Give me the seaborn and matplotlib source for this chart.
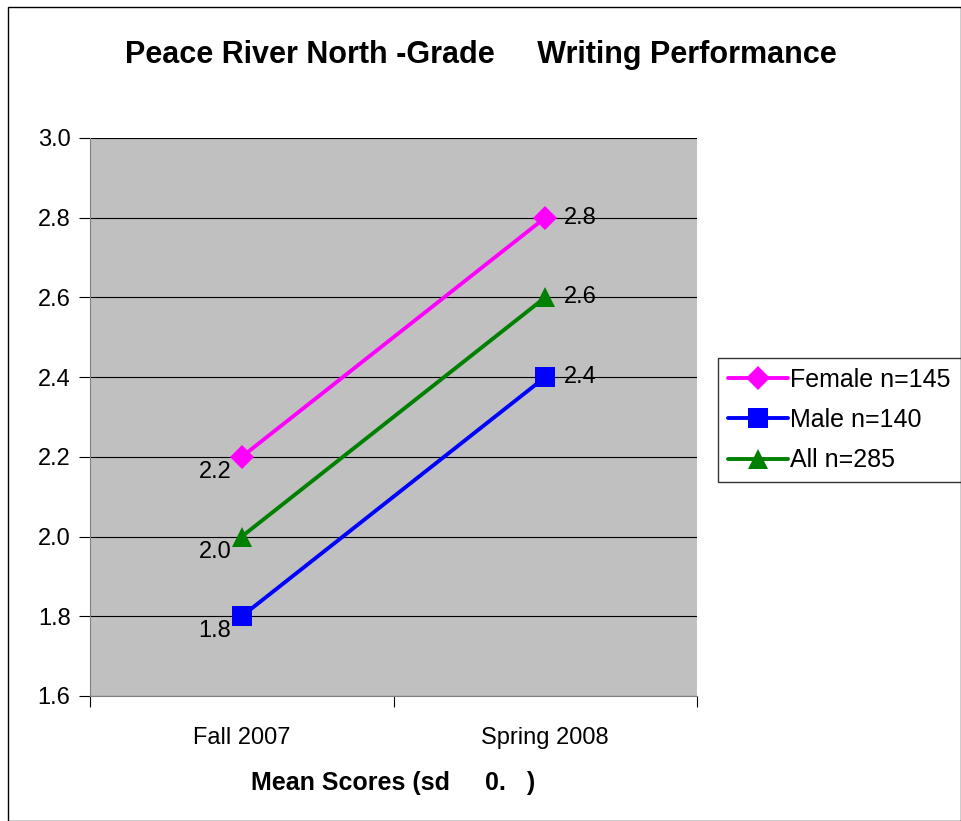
import pandas as pd
import matplotlib.pyplot as plt
import seaborn as sns

# data
terms = ['Fall 2007', 'Spring 2008']
female = [2.2, 2.8]
male = [1.8, 2.4]
all_students = [2.0, 2.6]
groups = ['Female n=145', 'Male n=140', 'All n=285']

df = pd.DataFrame({
    'term': terms * 3,
    'pos': [0, 1] * 3,
    'score': female + male + all_students,
    'group': [groups[0]] * 2 + [groups[1]] * 2 + [groups[2]] * 2,
})

sns.set_style('white')
plt.rcParams['font.family'] = ['Liberation Sans', 'DejaVu Sans']
plt.rcParams['text.color'] = 'black'
plt.rcParams['xtick.color'] = 'black'
plt.rcParams['ytick.color'] = 'black'
plt.rcParams['axes.labelcolor'] = 'black'

colors = {groups[0]: '#ff00ff', groups[1]: '#0000ff', groups[2]: '#008000'}
marks = {groups[0]: 'D', groups[1]: 's', groups[2]: '^'}
sizes = {groups[0]: 12, groups[1]: 15, groups[2]: 15}

fig = plt.figure(figsize=(9.61, 8.21), dpi=100)
ax = fig.add_axes([0.0937, 0.1523, 0.6316, 0.6797])
ax.set_facecolor('#c0c0c0')

sns.lineplot(data=df, x='pos', y='score', hue='group', style='group',
             palette=colors, markers=marks, dashes=False, linewidth=2.8,
             markersize=12, markeredgewidth=0, ax=ax, legend=False)
for line, g in zip(ax.lines, groups):
    line.set_markersize(sizes[g])

# data labels
for vals in [female, male, all_students]:
    ax.text(0 - 0.035, vals[0] - 0.01, f'{vals[0]:.1f}', ha='right', va='top', fontsize=17)
    ax.text(1 + 0.06, vals[1], f'{vals[1]:.1f}', ha='left', va='center', fontsize=17)

ax.set_xlim(-0.5, 1.5)
ax.set_ylim(1.6, 3.0)
ax.set_yticks([1.6, 1.8, 2.0, 2.2, 2.4, 2.6, 2.8, 3.0])
ax.set_yticklabels([f'{v:.1f}' for v in ax.get_yticks()], fontsize=17)
ax.yaxis.grid(True, color='black', linewidth=0.8)
ax.set_axisbelow(True)
ax.set_xticks([-0.5, 0.5, 1.5])
ax.set_xticklabels([])
ax.set_xticks([0, 1], minor=True)
ax.set_xticklabels(terms, minor=True, fontsize=17)
ax.tick_params(axis='x', which='minor', length=0, pad=22)
ax.tick_params(axis='both', which='major', length=8, width=0.8, direction='out',
               left=True, bottom=True, pad=6)
for side in ['top', 'right']:
    ax.spines[side].set_visible(False)
for side in ['left', 'bottom']:
    ax.spines[side].set_color('#808080')
ax.set_ylabel('')
ax.set_xlabel('Mean Scores (sd     0.   )', fontsize=18, fontweight='bold', labelpad=16)

fig.suptitle('Peace River North -Grade     Writing Performance', fontsize=22,
             fontweight='bold', y=0.951)

handles = [plt.Line2D([], [], color=colors[g], marker=marks[g], linewidth=2.8,
                      markersize=sizes[g], markeredgewidth=0) for g in groups]
leg = fig.legend(handles, groups, loc='upper left', bbox_to_anchor=(0.747, 0.564),
                 fontsize=18, frameon=True, fancybox=False, edgecolor='black',
                 handlelength=2.4, handletextpad=0.1, borderpad=0.4, labelspacing=0.65,
                 borderaxespad=0)
leg.get_frame().set_linewidth(1)

fig.patches.append(plt.Rectangle((0.008, 0.0), 0.992, 0.992, transform=fig.transFigure,
                                 fill=False, edgecolor='black', linewidth=1))

fig.savefig('out.png', dpi=100)
